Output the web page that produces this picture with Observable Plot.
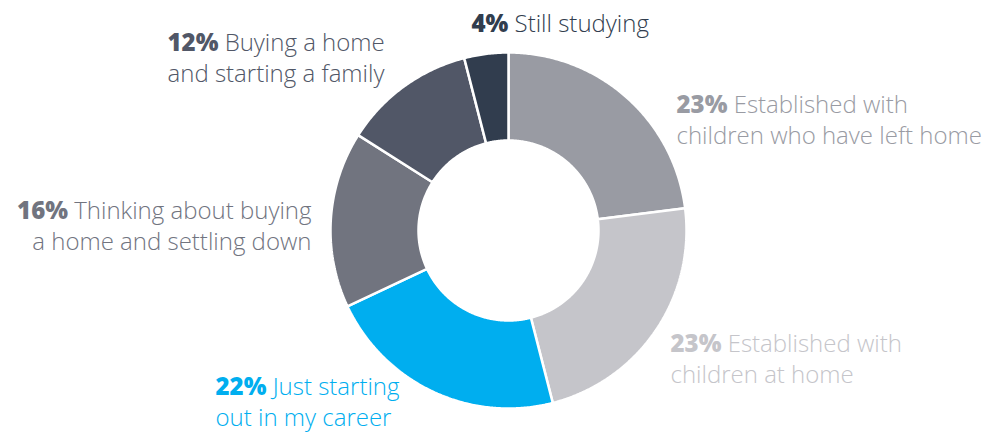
<!DOCTYPE html>
<html>
<head>
<meta charset="utf-8">
<script src="https://cdn.jsdelivr.net/npm/d3@7"></script>
<script src="https://cdn.jsdelivr.net/npm/@observablehq/plot@0.6"></script>
<style>
  html, body { margin: 0; padding: 0; background: #fff; }
  svg { font-family: "Open Sans", sans-serif; }
</style>
</head>
<body>
<div id="chart"></div>
<script>
// ---- data ----
const categories = [
  "Established with children who have left home",
  "Established with children at home",
  "Just starting out in my career",
  "Thinking about buying a home and settling down",
  "Buying a home and starting a family",
  "Still studying"
];
const shares = [23, 23, 22, 16, 12, 4];
const labelLines = [
  ["Established with", "children who have left home"],
  ["Established with", "children at home"],
  ["Just starting", "out in my career"],
  ["Thinking about buying", "a home and settling down"],
  ["Buying a home", "and starting a family"],
  ["Still studying"]
];
const colors = ["#999ba3", "#c5c5ca", "#00aeef", "#71747f", "#515767", "#313d4e"];

// ---- layout (pixels) ----
const W = 988, H = 434;
const CX = 508, CY = 230, R_OUT = 178, R_IN = 90;
const labelPos = [
  {x: 676, y: 118, anchor: "start"},
  {x: 670, y: 357, anchor: "start"},
  {x: 215, y: 400, anchor: "start"},
  {x: 311, y: 224, anchor: "end"},
  {x: 167, y: 56,  anchor: "start"},
  {x: 471, y: 22,  anchor: "start"}
];

// ---- build slice outlines from the values ----
const total = d3.sum(shares);
const slicePts = [];
let acc = 0;
categories.forEach((c, i) => {
  const a0 = acc / total * 2 * Math.PI;
  acc += shares[i];
  const a1 = acc / total * 2 * Math.PI;
  const n = Math.max(4, Math.ceil((a1 - a0) / (Math.PI / 360)));
  const pts = [];
  for (let k = 0; k <= n; k++) {
    const a = a0 + (a1 - a0) * k / n;
    pts.push({cat: c, x: CX + R_OUT * Math.sin(a), y: CY - R_OUT * Math.cos(a)});
  }
  for (let k = n; k >= 0; k--) {
    const a = a0 + (a1 - a0) * k / n;
    pts.push({cat: c, x: CX + R_IN * Math.sin(a), y: CY - R_IN * Math.cos(a)});
  }
  pts.push({...pts[0]});
  slicePts.push(...pts);
});

const labels = categories.map((c, i) => ({
  cat: c,
  text: shares[i] + "% " + labelLines[i].join("\n"),
  ...labelPos[i]
}));

const textMark = (anchor) => Plot.text(labels.filter(d => d.anchor === anchor), {
  x: "x", y: "y", text: "text", fill: "cat",
  textAnchor: anchor, lineAnchor: "middle", lineHeight: 1.27,
  fontSize: 24, fontWeight: 300
});

const chart = Plot.plot({
  width: W, height: H,
  margin: 0,
  x: {domain: [0, W], range: [0, W], axis: null},
  y: {domain: [0, H], range: [0, H], axis: null},
  color: {domain: categories, range: colors},
  style: {fontFamily: "'Open Sans', sans-serif", background: "white"},
  marks: [
    Plot.line(slicePts, {x: "x", y: "y", z: "cat", fill: "cat", stroke: "white", strokeWidth: 2.5, strokeLinejoin: "miter", curve: "linear"}),
    textMark("start"),
    textMark("end")
  ]
});

// bold the percentage at the start of each label
d3.select(chart).selectAll("g[aria-label=text] text").each(function () {
  const t = d3.select(this);
  const first = t.select("tspan").node() ? t.select("tspan") : t;
  const s = first.text();
  const m = s.match(/^(\d+%)\s(.*)$/);
  if (!m) return;
  first.text(null);
  first.append("tspan").attr("font-weight", 800).text(m[1]);
  first.append("tspan").text(" " + m[2]);
});

document.getElementById("chart").appendChild(chart);
</script>
</body>
</html>
